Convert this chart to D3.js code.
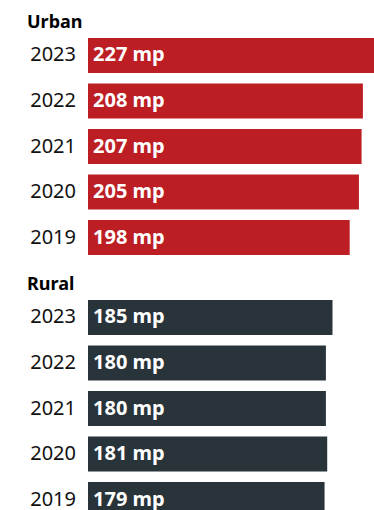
<!DOCTYPE html>
<html>
<head>
<meta charset="utf-8">
<script src="https://cdn.jsdelivr.net/npm/d3@7"></script>
<style>
  html, body { margin: 0; padding: 0; background: #fff; overflow: hidden; }
  svg { display: block; }
</style>
</head>
<body>
<div id="chart"></div>
<script>
// Yearly values per area, newest first
const years = ["2023", "2022", "2021", "2020", "2019"];
const urbanValues = [227, 208, 207, 205, 198];
const ruralValues = [185, 180, 180, 181, 179];
const groupNames = ["Urban", "Rural"];
const groupColors = ["#bc1e24", "#29333a"];
const unit = "mp";

const width = 374, height = 510;
const font = "'Noto Sans', 'Open Sans', sans-serif";

const svg = d3.select("#chart").append("svg")
  .attr("width", width)
  .attr("height", height);

// Shared value scale, starting from zero at the bar origin
const barLeft = 88;
const x = d3.scaleLinear().domain([0, 227]).range([0, 300]);

const groups = [
  { name: groupNames[0], values: urbanValues, color: groupColors[0], titleY: 27.5, top: 38 },
  { name: groupNames[1], values: ruralValues, color: groupColors[1], titleY: 289.5, top: 300 }
];

groups.forEach(g => {
  const y = d3.scaleBand()
    .domain(years)
    .range([g.top, g.top + 217])
    .paddingInner(0.2308)
    .paddingOuter(0);

  const gEl = svg.append("g");

  gEl.append("text")
    .attr("x", 27)
    .attr("y", g.titleY)
    .attr("font-family", font)
    .attr("font-weight", 700)
    .attr("font-size", 18)
    .attr("fill", "#000")
    .text(g.name);

  const rows = gEl.selectAll("g.row")
    .data(years.map((yr, i) => ({ year: yr, value: g.values[i] })))
    .join("g")
    .attr("class", "row");

  rows.append("rect")
    .attr("x", barLeft)
    .attr("y", d => y(d.year))
    .attr("width", d => x(d.value))
    .attr("height", y.bandwidth())
    .attr("fill", g.color);

  // baseline sits a little below the band centre
  const baseline = d => y(d.year) + y.bandwidth() / 2 + 6;

  rows.append("text")
    .attr("x", 76)
    .attr("y", baseline)
    .attr("text-anchor", "end")
    .attr("font-family", font)
    .attr("font-size", 20)
    .attr("fill", "#111")
    .text(d => d.year);

  rows.append("text")
    .attr("x", barLeft + 5)
    .attr("y", baseline)
    .attr("font-family", font)
    .attr("font-weight", 700)
    .attr("font-size", 20)
    .attr("fill", "#fff")
    .text(d => `${d.value} ${unit}`);
});
</script>
</body>
</html>
